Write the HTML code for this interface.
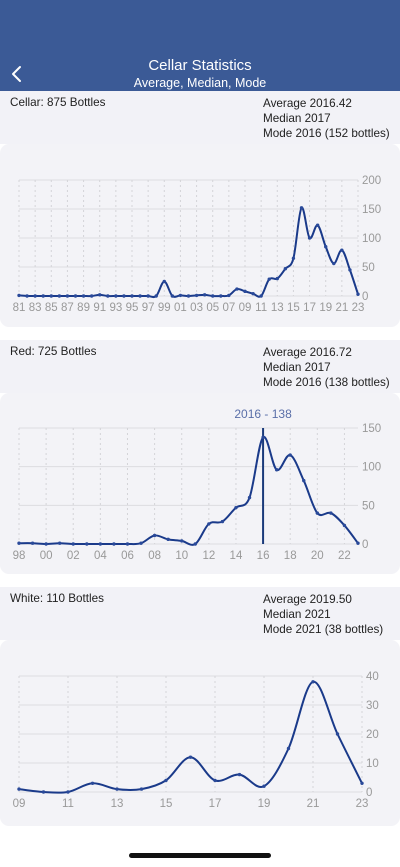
<!DOCTYPE html>
<html><head><meta charset="utf-8"><style>
body{margin:0;width:400px;height:867px;background:#fff;font-family:"Liberation Sans",sans-serif;position:relative;overflow:hidden}
.hdr{position:absolute;left:0;top:0;width:400px;height:91px;background:#3b5a96;color:#fff;text-align:center}
.info{position:absolute;left:0;width:400px;height:53px;background:#f2f2f7;font-size:11.7px;color:#222}
.info .l{position:absolute;left:10px;top:5px}
.info .r{position:absolute;left:263px;top:5px;line-height:15px}
.card{position:absolute;left:0;width:400px;background:#f3f3f7;border-radius:9px}
svg text{font-family:"Liberation Sans",sans-serif;font-size:11.5px;fill:#999}
.bar{position:absolute;left:129px;top:853px;width:142px;height:5px;border-radius:3px;background:#111}
</style></head><body>
<div class="hdr">
<svg style="position:absolute;left:10px;top:64px" width="16" height="20"><polyline points="10,3 3,10 10,17" fill="none" stroke="#fff" stroke-width="2" stroke-linecap="round" stroke-linejoin="round"/></svg>
<div style="position:absolute;left:0;right:0;top:57px;font-size:15px">Cellar Statistics</div>
<div style="position:absolute;left:0;right:0;top:76px;font-size:12.5px">Average, Median, Mode</div>
</div>
<div class="info" style="top:91px"><div class="l">Cellar: 875 Bottles</div><div class="r">Average 2016.42<br>Median 2017<br>Mode 2016 (152 bottles)</div></div>
<div class="card" style="top:144px;height:183px"><svg id="c1" width="400" height="183"></svg></div>
<div class="info" style="top:340px"><div class="l">Red: 725 Bottles</div><div class="r">Average 2016.72<br>Median 2017<br>Mode 2016 (138 bottles)</div></div>
<div class="card" style="top:393px;height:181px"><svg id="c2" width="400" height="181"></svg></div>
<div class="info" style="top:587px"><div class="l">White: 110 Bottles</div><div class="r">Average 2019.50<br>Median 2021<br>Mode 2021 (38 bottles)</div></div>
<div class="card" style="top:640px;height:186px"><svg id="c3" width="400" height="186"></svg></div>
<div class="bar"></div>
<script>
const cellarYears=[1981,2023];
const cellarValues=[1,0,0,0,0,0,0,0,0,0,2,0,0,0,0,0,0,0,25,0,1,0,1,2,0,0,1,12,8,4,0,29,30,47,65,152,100,122,85,56,79,45,3];
const cellarTicks=[0,50,100,150,200];
const redYears=[1998,2023];
const redValues=[1,1,0,1,0,0,0,0,0,1,11,6,4,0,26,29,47,60,138,96,115,82,40,40,24,1];
const redTicks=[0,50,100,150];
const whiteYears=[2009,2023];
const whiteValues=[1,0,0,3,1,1,4,12,4,6,2,15,38,20,3];
const whiteTicks=[0,10,20,30,40];
const NS='http://www.w3.org/2000/svg';
function mk(svg,tag,attrs){const e=document.createElementNS(NS,tag);for(const k in attrs)e.setAttribute(k,attrs[k]);svg.appendChild(e);return e;}
function draw(id,years,vals,ticks,L,R,T,B,name,cursorYear){
 const svg=document.getElementById(id);
 const n=vals.length,maxV=ticks[ticks.length-1];
 const x=i=>L+(R-L)*i/(n-1), y=v=>B-(B-T)*v/maxV;
 for(const t of ticks){
  const g=mk(svg,'line',{x1:L,x2:R,y1:y(t),y2:y(t),stroke:'#dcdce0','stroke-width':1});
  
  const tx=mk(svg,'text',{x:R+4,y:y(t)+4});tx.textContent=t;
  
 }
 for(let i=0;i<n;i+=2){
  const g=mk(svg,'line',{x1:x(i),x2:x(i),y1:T,y2:B,stroke:'#d4d4d8','stroke-dasharray':'2,3'});
  
  const tx=mk(svg,'text',{x:x(i),y:B+15,'text-anchor':'middle'});tx.textContent=String((years[0]+i)%100).padStart(2,'0');
  
 }
 const P=vals.map((v,i)=>[x(i),y(v)]);
 let d='M'+P[0][0]+','+P[0][1];
 for(let i=0;i<n-1;i++){
  const p0=P[Math.max(0,i-1)],p1=P[i],p2=P[i+1],p3=P[Math.min(n-1,i+2)];
  const c1=[p1[0]+(p2[0]-p0[0])/6,p1[1]+(p2[1]-p0[1])/6],c2=[p2[0]-(p3[0]-p1[0])/6,p2[1]-(p3[1]-p1[1])/6];
  d+=' C'+c1+' '+c2+' '+p2;
 }
 if(cursorYear){
  const ci=cursorYear-years[0];
  const cl=mk(svg,'line',{x1:x(ci),x2:x(ci),y1:T,y2:B,stroke:'#1a3a7a','stroke-width':2});
  
  const ct=mk(svg,'text',{x:x(ci),y:T-10,'text-anchor':'middle',style:'fill:#5a6fa8;font-size:12px'});ct.textContent=cursorYear+' - '+vals[ci];
  
 }
 const pa=mk(svg,'path',{d:d,fill:'none',stroke:'#1a3a8a','stroke-width':2});
 
 P.forEach(p=>{const c=mk(svg,'circle',{cx:p[0],cy:p[1],r:1.7,fill:'#2a4a9a'});
  });
}
draw('c1',cellarYears,cellarValues,cellarTicks,19,358,36,152,'cellar');
draw('c2',redYears,redValues,redTicks,19,358,35,151,'red',2016);
draw('c3',whiteYears,whiteValues,whiteTicks,19,362,36,152,'white');
</script>
</body></html>
